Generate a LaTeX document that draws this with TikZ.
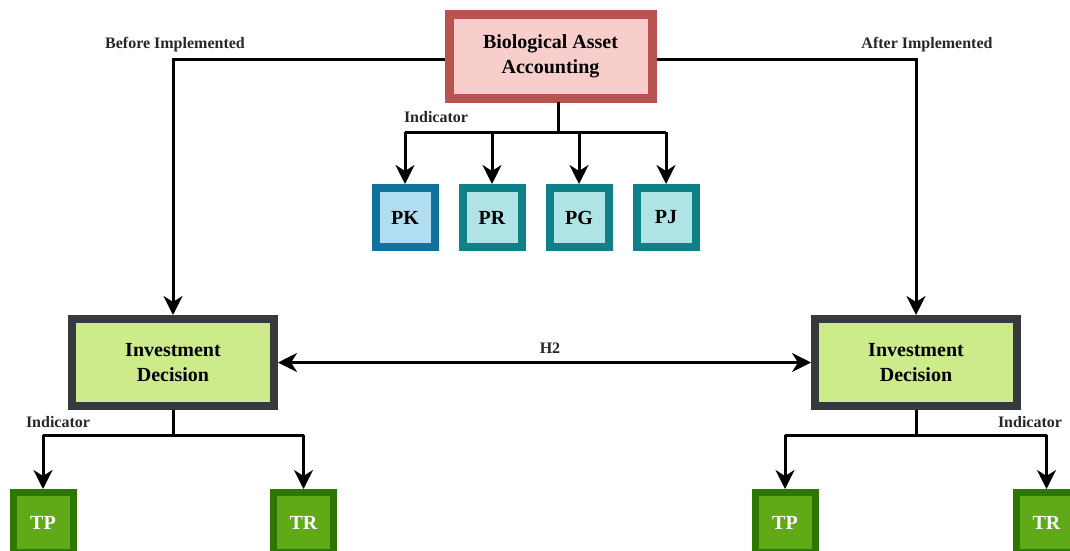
\documentclass[tikz,border=0pt]{standalone}
\usepackage{fontspec}
\setmainfont{Liberation Serif}
\usetikzlibrary{arrows.meta}
\definecolor{baaS}{HTML}{B85450}
\definecolor{baaF}{HTML}{F8CECC}
\definecolor{pkS}{HTML}{10739E}
\definecolor{pkF}{HTML}{B1DDF0}
\definecolor{tealS}{HTML}{0E8088}
\definecolor{tealF}{HTML}{B0E3E6}
\definecolor{idS}{HTML}{36393D}
\definecolor{idF}{HTML}{CDEB8B}
\definecolor{grS}{HTML}{2D7600}
\definecolor{grF}{HTML}{60A917}
\tikzset{
  >={Stealth[length=19pt,width=19pt,inset=6pt]},
  boxtext/.style={font=\fontsize{20}{24.5}\selectfont\bfseries, align=center, inner sep=0pt},
  baabox/.style={boxtext, draw=baaS, fill=baaF, line width=9pt, minimum width=203pt, minimum height=84pt},
  pkbox/.style={boxtext, draw=pkS, fill=pkF, line width=8pt, minimum width=59pt, minimum height=59pt},
  tealbox/.style={boxtext, draw=tealS, fill=tealF, line width=8pt, minimum width=59pt, minimum height=59pt},
  idbox/.style={boxtext, draw=idS, fill=idF, line width=8pt, minimum width=202pt, minimum height=87pt},
  grbox/.style={boxtext, text=white, draw=grS, fill=grF, line width=7pt, minimum width=60pt, minimum height=60pt},
  lbl/.style={font=\fontsize{16}{19}\selectfont\bfseries, inner sep=0pt, text=black!85},
  conn/.style={line width=3pt, line join=miter},
  arr/.style={conn, ->},
  darr/.style={conn, <->}
}
\begin{document}
\begin{tikzpicture}[x=1pt,y=-1pt]
\useasboundingbox (0,0) rectangle (1070,550);
\begin{scope}
\clip (0,0) rectangle (1070,550);
% nodes
\node[baabox] (baa) at (550.5,56.5) {Biological Asset\\Accounting};
\node[pkbox] (pk) at (405,217.5) {PK};
\node[tealbox] (pr) at (492,217.5) {PR};
\node[tealbox] (pg) at (579,217.5) {PG};
\node[tealbox] (pj) at (666,217.5) {PJ};
\node[idbox] (idl) at (173,362.5) {Investment\\Decision};
\node[idbox] (idr) at (916,362.5) {Investment\\Decision};
\node[grbox] (tpl) at (43,522.5) {TP};
\node[grbox] (trl) at (303.5,522.5) {TR};
\node[grbox] (tpr) at (785,522.5) {TP};
\node[grbox] (trr) at (1046.5,522.5) {TR};
% labels
\node[lbl] (before) at (175,45) {Before Implemented};
\node[lbl] (after) at (927,45) {After Implemented};
\node[lbl] (ind1) at (436,117) {Indicator};
\node[lbl] (ind2) at (58,422) {Indicator};
\node[lbl] (ind3) at (1030,422) {Indicator};
\node[lbl] (h2) at (550,348) {H2};
% coordinates
\coordinate (baaw) at (baa.west |- 0,59);
\coordinate (baae) at (baa.east |- 0,59);
\coordinate (baab) at (558,102);
\coordinate (busT) at (558,132);
\coordinate (busL) at (173,435);
\coordinate (busR) at (916,435);
% connectors
\draw[arr] (baaw) -| (idl.north);
\draw[arr] (baae) -| (idr.north);
\draw[conn] (baab) -- (busT);
\draw[conn] (pk.north |- busT) -- (pj.north |- busT);
\draw[arr] (pk.north |- busT) -- (pk.north);
\draw[arr] (pr.north |- busT) -- (pr.north);
\draw[arr] (pg.north |- busT) -- (pg.north);
\draw[arr] (pj.north |- busT) -- (pj.north);
\draw[darr] (idl.east) -- (idr.west);
\draw[conn] (idl.south) -- (busL);
\draw[conn] (tpl.north |- busL) -- (trl.north |- busL);
\draw[arr] (tpl.north |- busL) -- (tpl.north);
\draw[arr] (trl.north |- busL) -- (trl.north);
\draw[conn] (idr.south) -- (busR);
\draw[conn] (tpr.north |- busR) -- (trr.north |- busR);
\draw[arr] (tpr.north |- busR) -- (tpr.north);
\draw[arr] (trr.north |- busR) -- (trr.north);
\end{scope}
\end{tikzpicture}
\end{document}
